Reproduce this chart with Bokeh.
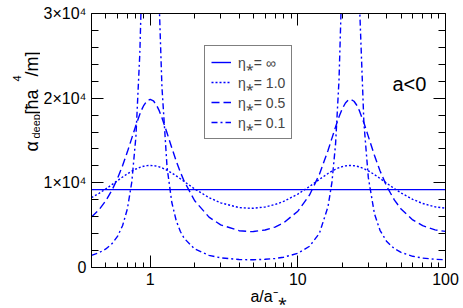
import math
from bokeh.plotting import figure
from bokeh.layouts import row
from bokeh.models import (Range1d, FixedTicker, LogAxis, LinearAxis, Label,
                          Legend, LegendItem, BasicTickFormatter)
from bokeh.core.properties import value
from bokeh.embed import file_html
from bokeh.resources import INLINE

# ---------------- data ----------------
x_ratio = [0.4, 0.45, 0.5, 0.55, 0.6, 0.65, 0.7, 0.75, 0.8, 0.85, 0.88, 0.9,
           0.95, 1.0, 1.05, 1.1, 1.15, 1.2, 1.3, 1.4, 1.5, 1.6, 1.7, 2.0, 2.5,
           3.0, 4.0, 4.76, 5.0, 6.0, 7.0, 8.0, 10, 12, 14, 16, 17, 18, 19, 20,
           21, 22, 22.7, 24, 25, 26, 28, 30, 33, 36, 40, 45, 50, 60, 70, 85, 100]

alpha_eta_1 = [8257, 8765, 9281, 9784, 10258, 10688, 11065, 11382, 11636, 11826,
               11911, 11956, 12030, 12053, 12032, 11974, 11884, 11770, 11487,
               11162, 10820, 10479, 10150, 9281, 8257, 7637, 7082, 6991, 6998,
               7150, 7437, 7805, 8669, 9573, 10409, 11100, 11377, 11605, 11784,
               11915, 12001, 12045, 12053, 12026, 11971, 11893, 11681, 11418,
               10978, 10525, 9953, 9325, 8805, 8045, 7561, 7163, 7009]

alpha_eta_05 = [5951, 6831, 7885, 9114, 10509, 12041, 13659, 15280, 16798, 18098,
                18729, 19078, 19672, 19864, 19690, 19216, 18524, 17696, 15882,
                14126, 12574, 11261, 10167, 7885, 5951, 5040, 4347, 4242, 4250,
                4426, 4778, 5271, 6653, 8571, 11013, 13823, 15251, 16600, 17793,
                18753, 19430, 19793, 19864, 19635, 19196, 18590, 17093, 15484,
                13257, 11426, 9581, 7984, 6907, 5621, 4939, 4442, 4262]

alpha_eta_01 = [1433, 1750, 2187, 2798, 3670, 4956, 6927, 10098, 15503, 25292,
                34888, 43526, 72792, 92106, 74279, 48128, 31135, 21335, 11828,
                7678, 5518, 4249, 3435, 2187, 1433, 1143, 943, 915, 917, 966,
                1065, 1213, 1683, 2512, 4048, 7180, 10025, 14567, 22184, 35380,
                57341, 83933, 92106, 70013, 47421, 32265, 17094, 10640, 6357,
                4389, 3065, 2232, 1779, 1324, 1113, 970, 920]

x_inf = [0.4, 100]
alpha_eta_inf = [9200, 9200]

legend_labels = ["η⁎= ∞", "η⁎= 1.0", "η⁎= 0.5", "η⁎= 0.1"]

x_major = [1, 10, 100]
x_major_labels = ["1", "10", "100"]
x_minor = [0.4, 0.5, 0.6, 0.7, 0.8, 0.9, 2, 3, 4, 5, 6, 7, 8, 9,
           20, 30, 40, 50, 60, 70, 80, 90]
y_major = [0, 10000, 20000, 30000]
y_major_labels = ["0", "1×10⁴", "2×10⁴", "3×10⁴"]
y_minor = [2000, 4000, 6000, 8000, 12000, 14000, 16000, 18000,
           22000, 24000, 26000, 28000]

FONT = "Liberation Sans"
BLUE = "#0000ff"
X0, X1, Y0, Y1 = 0.4, 100, 0, 30000
H = 308
TW = 40            # width of the strip that carries the y-axis title
W = 463 - TW

# ---------------- y-axis title strip ----------------
t = figure(width=TW, height=H, x_range=Range1d(0, TW), y_range=Range1d(0, H),
           x_axis_type=None, y_axis_type=None, output_backend="svg",
           toolbar_location=None, min_border=0, min_border_left=0,
           min_border_right=0, min_border_top=0, min_border_bottom=0)
t.title.visible = False
t.outline_line_color = None
t.background_fill_color = "white"
t.border_fill_color = "white"

def title_piece(txt, x, y, size):
    t.add_layout(Label(x=x, y=y, x_units="screen", y_units="screen", text=txt,
                       angle=math.pi / 2, text_font=FONT, text_font_size=size,
                       text_color="black", text_align="left",
                       text_baseline="alphabetic"))

title_piece("α", 31, 116, "18px")
title_piece("deep", 35, 129, "11px")
title_piece("[ħa", 31, 153, "18px")
title_piece("4", 16, 186, "11px")
title_piece("/m]", 31, 191, "18px")

# ---------------- main plot ----------------
p = figure(width=W, height=H, x_axis_type="log",
           x_range=Range1d(X0, X1), y_range=Range1d(Y0, Y1),
           output_backend="svg", toolbar_location=None,
           min_border_left=89 - TW, min_border_right=18, min_border_top=13,
           min_border_bottom=41)
p.title.visible = False
p.xgrid.visible = False
p.ygrid.visible = False
p.outline_line_color = None
p.background_fill_color = "white"
p.border_fill_color = "white"

def style_axis(ax, major_in, minor_in, show_labels=True):
    ax.major_tick_in = major_in
    ax.major_tick_out = 0
    ax.minor_tick_in = minor_in
    ax.minor_tick_out = 0
    ax.axis_line_color = "black"
    ax.major_tick_line_color = "black"
    ax.minor_tick_line_color = "black"
    ax.major_label_text_font = FONT
    ax.major_label_text_color = "black"
    if show_labels:
        ax.major_label_text_font_size = "16px"
    else:
        ax.major_label_text_font_size = "1px"
        ax.major_label_text_alpha = 0
        ax.major_label_standoff = 0

xb = p.xaxis[0]
xb.ticker = FixedTicker(ticks=x_major, minor_ticks=x_minor)
xb.formatter = BasicTickFormatter()
xb.major_label_overrides = dict(zip(x_major, x_major_labels))
style_axis(xb, 12, 5)
xb.major_label_standoff = 5
xb.axis_label = "a/a⁻⁎"
xb.axis_label_text_font = FONT
xb.axis_label_text_font_size = "16px"
xb.axis_label_text_font_style = "normal"
xb.axis_label_text_color = "black"
xb.axis_label_standoff = 0

yl = p.yaxis[0]
yl.ticker = FixedTicker(ticks=y_major, minor_ticks=y_minor)
yl.major_label_overrides = dict(zip(y_major, y_major_labels))
style_axis(yl, 12, 7)
yl.major_label_standoff = 5

xt = LogAxis(ticker=FixedTicker(ticks=x_major, minor_ticks=x_minor))
style_axis(xt, 12, 5, show_labels=False)
p.add_layout(xt, "above")
yr = LinearAxis(ticker=FixedTicker(ticks=y_major, minor_ticks=y_minor))
style_axis(yr, 12, 7, show_labels=False)
p.add_layout(yr, "right")

r_inf = p.line(x_inf, alpha_eta_inf, line_color=BLUE, line_width=1.4)
r_1 = p.line(x_ratio, alpha_eta_1, line_color=BLUE, line_width=1.4, line_dash="2 2")
r_05 = p.line(x_ratio, alpha_eta_05, line_color=BLUE, line_width=1.4, line_dash="8 4")
r_01 = p.line(x_ratio, alpha_eta_01, line_color=BLUE, line_width=1.4, line_dash="6 3 2 3")

items = [LegendItem(label=value(lbl), renderers=[r])
         for lbl, r in zip(legend_labels, [r_inf, r_1, r_05, r_01])]
legend = Legend(items=items, location=(113, 128), border_line_color="black",
                border_line_width=1, padding=6, spacing=0, margin=0,
                label_text_font=FONT, label_text_font_size="14px",
                glyph_width=20, glyph_height=20, label_height=20,
                label_standoff=7, background_fill_color="white",
                background_fill_alpha=1)
p.add_layout(legend)

p.add_layout(Label(x=301, y=184, x_units="screen", y_units="screen", text="a<0",
                   text_font=FONT, text_font_size="20px", text_color="black",
                   text_align="left", text_baseline="alphabetic"))

layout = row(t, p, spacing=0)
open("out.html", "w").write(file_html(layout, INLINE))
